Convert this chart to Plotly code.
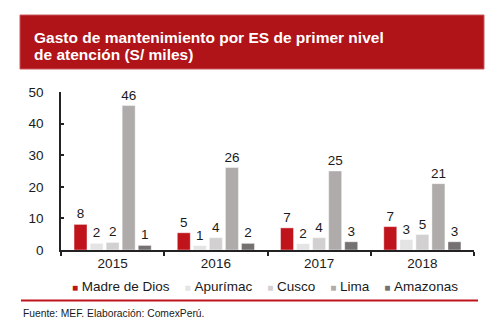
import plotly.graph_objects as go

years = ["2015", "2016", "2017", "2018"]
series_names = ["Madre de Dios", "Apurímac", "Cusco", "Lima", "Amazonas"]
madre_de_dios = [8.1, 5.45, 7.0, 7.4]
apurimac = [2.1, 1.4, 2.0, 3.3]
cusco = [2.4, 3.9, 3.9, 4.9]
lima = [45.7, 26.1, 25.0, 21.0]
amazonas = [1.45, 2.1, 2.6, 2.6]
series_values = [madre_de_dios, apurimac, cusco, lima, amazonas]
colors = ["#C0141C", "#E4E4E4", "#D2D0D0", "#AFABAB", "#767171"]

title_lines = ["Gasto de mantenimiento por ES de primer nivel", "de atención (S/ miles)"]
source_text = "Fuente: MEF. Elaboración: ComexPerú."
y_ticks = [0, 10, 20, 30, 40, 50]

FONT = "Liberation Sans, Arial, sans-serif"

W, H = 499, 331
L, R, T, B = 61, 25, 92, 81
pw = W - L - R
ph = H - T - B


def px_x(x):
    return (x - L) / pw


def px_y(y):
    return (H - B - y) / ph


fig = go.Figure()
for name, vals, col in zip(series_names, series_values, colors):
    fig.add_trace(go.Bar(
        x=years, y=vals, name=name,
        marker=dict(color=col, line=dict(width=0.6, color="rgba(255,255,255,0.7)")),
        texttemplate="%{y:.0f}", textposition="outside",
        textfont=dict(family=FONT, size=13.5, color="#1a1a1a"),
        constraintext="none", cliponaxis=False, showlegend=False,
    ))

# legend as one line of text built from names and colours
sep = "\u00a0" * 4
legend_parts = [
    f'<span style="color:{c};font-size:10px">■</span>\u00a0{n}'
    for n, c in zip(series_names, colors)
]
legend_text = sep.join(legend_parts)

annotations = []
for line, ypx in zip(title_lines, [37.5, 54]):
    annotations.append(dict(
        text=f"<b>{line}</b>", x=px_x(32), y=px_y(ypx), xref="paper", yref="paper",
        xanchor="left", yanchor="middle", align="left", showarrow=False,
        font=dict(family=FONT, size=15.5, color="white")))
annotations += [
    dict(text=legend_text, x=px_x(265), y=px_y(286), xref="paper", yref="paper",
         xanchor="center", yanchor="middle", showarrow=False,
         font=dict(family=FONT, size=13.5, color="#1a1a1a")),
    dict(text=source_text, x=px_x(21), y=px_y(313), xref="paper", yref="paper",
         xanchor="left", yanchor="middle", showarrow=False,
         font=dict(family=FONT, size=10.3, color="#1a1a1a")),
]

shapes = [
    dict(type="rect", xref="paper", yref="paper",
         x0=px_x(20), x1=px_x(484), y0=px_y(69), y1=px_y(15),
         fillcolor="#B01318", line=dict(color="#C8585C", width=1), layer="below"),
    dict(type="line", xref="paper", yref="paper",
         x0=px_x(21), x1=px_x(478), y0=px_y(300.5), y1=px_y(300.5),
         line=dict(color="#C0141C", width=2)),
]

fig.update_layout(
    width=W, height=H,
    margin=dict(l=L, r=R, t=T, b=B),
    paper_bgcolor="white", plot_bgcolor="white",
    barmode="group", bargap=0.223, bargroupgap=0.19,
    annotations=annotations, shapes=shapes,
    font=dict(family=FONT, color="#1a1a1a"),
)
fig.update_xaxes(
    showline=True, linecolor="#222", linewidth=1.5,
    ticks="outside", ticklen=4, tickcolor="#222", tickwidth=1.5,
    tickson="boundaries", showgrid=False,
    tickfont=dict(family=FONT, size=13.5, color="#1a1a1a"),
)
fig.update_yaxes(
    range=[0, 50], tickvals=y_ticks, showline=True, linecolor="#222", linewidth=1.5,
    ticks="inside", ticklen=3, tickcolor="#222", tickwidth=1.5,
    showgrid=False, zeroline=False, ticklabelstandoff=13,
    tickfont=dict(family=FONT, size=13.5, color="#1a1a1a"),
)

fig.write_html("out.html")
